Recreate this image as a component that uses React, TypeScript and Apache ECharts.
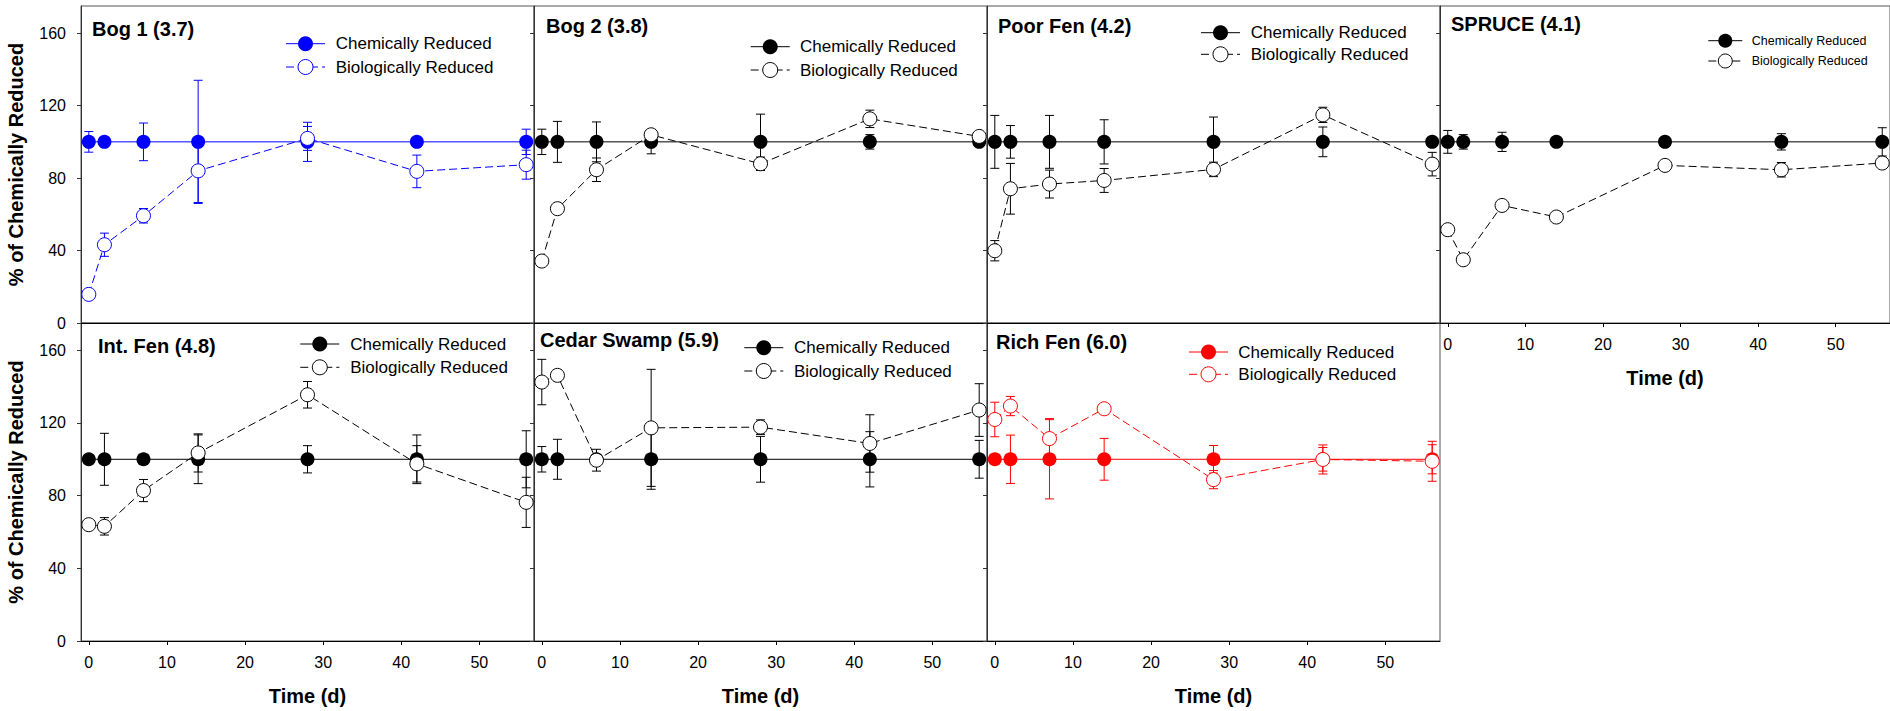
import React, { useEffect, useRef } from "react";
import * as echarts from "echarts";

// ---------- data ----------
const DAYS = [0, 2, 7, 14, 28, 42, 56];
const DAYS_SPRUCE = [0, 2, 7, 14, 28, 43, 56];
const X_TICKS = [0, 10, 20, 30, 40, 50];
const Y_TICKS = [0, 40, 80, 120, 160];

const PANEL_TITLES = [
  "Bog 1 (3.7)",
  "Bog 2 (3.8)",
  "Poor Fen (4.2)",
  "SPRUCE (4.1)",
  "Int. Fen (4.8)",
  "Cedar Swamp (5.9)",
  "Rich Fen (6.0)",
];
const SERIES_NAMES = ["Chemically Reduced", "Biologically Reduced"];

const BOG1_CHEM = [100, 100, 100, 100, 100, 100, 100];
const BOG1_CHEM_ERR = [5.7, 0, 10.4, 34, 10.8, 0, 7];
const BOG1_BIO = [15.8, 43.2, 59.2, 84.0, 101.9, 83.7, 87.4];
const BOG1_BIO_ERR = [0, 6.4, 4, 17.5, 6.6, 9, 8];

const BOG2_CHEM = [100, 100, 100, 100, 100, 100, 100];
const BOG2_CHEM_ERR = [7, 11.3, 11, 6.6, 15.3, 4, 0];
const BOG2_BIO = [34.2, 63.1, 84.6, 103.9, 87.9, 112.7, 103];
const BOG2_BIO_ERR = [0, 0, 6.5, 0, 3.7, 4.8, 0];

const POORFEN_CHEM = [100, 100, 100, 100, 100, 100, 100];
const POORFEN_CHEM_ERR = [14.6, 9, 14.6, 12.2, 13.7, 8.2, 0];
const POORFEN_BIO = [39.9, 74.1, 76.7, 78.7, 84.8, 114.9, 87.7];
const POORFEN_BIO_ERR = [5.6, 14, 7.7, 6.6, 4, 4.2, 6.5];

const SPRUCE_CHEM = [100, 100, 100, 100, 100, 100, 100];
const SPRUCE_CHEM_ERR = [6.3, 4, 5.3, 0, 0, 4.5, 7.8];
const SPRUCE_BIO = [51.5, 34.9, 64.9, 58.5, 87.0, 84.6, 88.3];
const SPRUCE_BIO_ERR = [0, 0, 0, 0, 0, 4, 0];

const INTFEN_CHEM = [100, 100, 100, 100, 100, 100, 100];
const INTFEN_CHEM_ERR = [0, 14.3, 0, 13.4, 7.5, 13.4, 15.7];
const INTFEN_BIO = [64, 63.1, 82.8, 103.5, 135.5, 97.5, 76.3];
const INTFEN_BIO_ERR = [0, 4.8, 6.1, 10.5, 7.3, 10, 13.8];

const CEDAR_CHEM = [100, 100, 100, 100, 100, 100, 100];
const CEDAR_CHEM_ERR = [7, 11, 0, 16.5, 12.6, 15.2, 10.4];
const CEDAR_BIO = [142.5, 146.2, 99.5, 117.3, 117.7, 108.7, 127.1];
const CEDAR_BIO_ERR = [12.5, 3, 6, 32.2, 4, 15.8, 14.5];

const RICHFEN_CHEM = [100, 100, 100, 100, 100, 100, 100];
const RICHFEN_CHEM_ERR = [0, 13.3, 21.8, 11.5, 7.6, 6.5, 8];
const RICHFEN_BIO = [121.9, 129.3, 111.4, 127.8, 88.8, 99.9, 98.9];
const RICHFEN_BIO_ERR = [9.5, 5.3, 11, 0, 5, 8, 11];

const PANEL_DATA = [
  { days: DAYS, chem: BOG1_CHEM, chemErr: BOG1_CHEM_ERR, bio: BOG1_BIO, bioErr: BOG1_BIO_ERR },
  { days: DAYS, chem: BOG2_CHEM, chemErr: BOG2_CHEM_ERR, bio: BOG2_BIO, bioErr: BOG2_BIO_ERR },
  { days: DAYS, chem: POORFEN_CHEM, chemErr: POORFEN_CHEM_ERR, bio: POORFEN_BIO, bioErr: POORFEN_BIO_ERR },
  { days: DAYS_SPRUCE, chem: SPRUCE_CHEM, chemErr: SPRUCE_CHEM_ERR, bio: SPRUCE_BIO, bioErr: SPRUCE_BIO_ERR },
  { days: DAYS, chem: INTFEN_CHEM, chemErr: INTFEN_CHEM_ERR, bio: INTFEN_BIO, bioErr: INTFEN_BIO_ERR },
  { days: DAYS, chem: CEDAR_CHEM, chemErr: CEDAR_CHEM_ERR, bio: CEDAR_BIO, bioErr: CEDAR_BIO_ERR },
  { days: DAYS, chem: RICHFEN_CHEM, chemErr: RICHFEN_CHEM_ERR, bio: RICHFEN_BIO, bioErr: RICHFEN_BIO_ERR },
];

// ---------- layout / style ----------
const FONT = 'Arial, "Liberation Sans", Helvetica, sans-serif';
const PANEL_COLORS = ["#0000ff", "#000", "#000", "#000", "#000", "#000", "#ff0000"];
const GRID_W = 453;
const GRIDS = [
  { left: 81, top: 6, height: 317 },
  { left: 534, top: 6, height: 317 },
  { left: 987, top: 6, height: 317 },
  { left: 1440, top: 6, height: 317 },
  { left: 81, top: 323, height: 318 },
  { left: 534, top: 323, height: 318 },
  { left: 987, top: 323, height: 318 },
];
const SHOW_X = [false, false, false, true, true, true, true];
const SHOW_Y = [true, false, false, false, true, false, false];
const TITLE_POS = [
  [92, 30],
  [546, 27.3],
  [998, 27.3],
  [1451, 25],
  [98, 346.7],
  [540, 340.7],
  [996, 342.7],
];
const LEGEND_POS = [
  { x: 286, len: 39, rows: [43.7, 67], tx: 335.7, fs: 17 },
  { x: 750.7, len: 39, rows: [46.7, 70], tx: 800, fs: 17 },
  { x: 1201, len: 39, rows: [32.7, 54.3], tx: 1250.7, fs: 17 },
  { x: 1708.3, len: 34, rows: [40.7, 61], tx: 1751.7, fs: 12.5 },
  { x: 300.3, len: 39, rows: [344, 367.3], tx: 350.2, fs: 17 },
  { x: 744.3, len: 39, rows: [347.7, 371], tx: 794, fs: 17 },
  { x: 1189, len: 39, rows: [352, 374.3], tx: 1238.3, fs: 17 },
];
const DASH = [8, 4];
const MARKER = 14;

function errorSeries(i: number, days: number[], vals: number[], errs: number[], color: string) {
  const data: number[][] = [];
  days.forEach((d, j) => {
    if (errs[j] > 0) data.push([d, vals[j] - errs[j], vals[j] + errs[j]]);
  });
  return {
    type: "custom",
    xAxisIndex: i,
    yAxisIndex: i,
    z: 1,
    silent: true,
    encode: { x: 0, y: [1, 2] },
    data,
    renderItem: (params: any, api: any) => {
      const x = api.value(0);
      const lo = api.coord([x, api.value(1)]);
      const hi = api.coord([x, api.value(2)]);
      const w = 4.5;
      const style = { stroke: color, lineWidth: 1, fill: "none" };
      return {
        type: "group",
        children: [
          { type: "line", shape: { x1: lo[0], y1: lo[1], x2: hi[0], y2: hi[1] }, style },
          { type: "line", shape: { x1: lo[0] - w, y1: lo[1], x2: lo[0] + w, y2: lo[1] }, style },
          { type: "line", shape: { x1: hi[0] - w, y1: hi[1], x2: hi[0] + w, y2: hi[1] }, style },
        ],
      };
    },
  };
}

function buildOption() {
  const grid: any[] = [];
  const xAxis: any[] = [];
  const yAxis: any[] = [];
  const series: any[] = [];
  const title: any[] = [];
  const graphic: any[] = [];

  PANEL_DATA.forEach((p, i) => {
    const g = GRIDS[i];
    const c = PANEL_COLORS[i];
    grid.push({
      left: g.left,
      top: g.top,
      width: GRID_W,
      height: g.height,
      show: true,
      borderColor: "#555",
      borderWidth: 1,
      backgroundColor: "transparent",
      containLabel: false,
    });
    xAxis.push({
      type: "value",
      gridIndex: i,
      min: -1,
      max: 57,
      splitLine: { show: false },
      axisLine: { show: true, onZero: false, lineStyle: { color: "#000", width: 1 } },
      axisTick: {
        show: SHOW_X[i],
        customValues: X_TICKS,
        length: 4,
        inside: false,
        lineStyle: { color: "#000" },
      },
      axisLabel: {
        show: SHOW_X[i],
        customValues: X_TICKS,
        fontSize: 16,
        color: "#000",
        margin: 13,
        fontFamily: FONT,
      },
      name: SHOW_X[i] ? "Time (d)" : "",
      nameLocation: "middle",
      nameGap: 45,
      nameTextStyle: { fontSize: 20, fontWeight: "bold", color: "#000", fontFamily: FONT },
    });
    yAxis.push({
      type: "value",
      gridIndex: i,
      min: 0,
      max: 175,
      splitLine: { show: false },
      axisLine: { show: true, onZero: false, lineStyle: { color: "#333", width: 1 } },
      axisTick: {
        show: true,
        customValues: Y_TICKS,
        length: 4,
        inside: false,
        lineStyle: { color: "#333" },
      },
      axisLabel: {
        show: SHOW_Y[i],
        customValues: Y_TICKS,
        fontSize: 16,
        color: "#000",
        margin: 15,
        fontFamily: FONT,
      },
      name: SHOW_Y[i] ? "% of Chemically Reduced" : "",
      nameLocation: "middle",
      nameRotate: 90,
      nameGap: 55,
      nameTextStyle: { fontSize: 20, fontWeight: "bold", color: "#000", fontFamily: FONT },
    });

    title.push({
      text: PANEL_TITLES[i],
      left: TITLE_POS[i][0],
      top: TITLE_POS[i][1] - 11,
      padding: 0,
      textStyle: { fontSize: 20, fontWeight: "bold", color: "#000", fontFamily: FONT },
    });

    series.push(errorSeries(i, p.days, p.chem, p.chemErr, c));
    series.push(errorSeries(i, p.days, p.bio, p.bioErr, c));
    series.push({
      type: "line",
      name: PANEL_TITLES[i] + " – " + SERIES_NAMES[0],
      xAxisIndex: i,
      yAxisIndex: i,
      z: 2,
      data: p.days.map((d, j) => [d, p.chem[j]]),
      symbol: "circle",
      symbolSize: MARKER,
      lineStyle: { color: c, width: 1, type: "solid" },
      itemStyle: { color: c, borderWidth: 0 },
      emphasis: { disabled: true },
    });
    series.push({
      type: "line",
      name: PANEL_TITLES[i] + " – " + SERIES_NAMES[1],
      xAxisIndex: i,
      yAxisIndex: i,
      z: 3,
      data: p.days.map((d, j) => [d, p.bio[j]]),
      symbol: "circle",
      symbolSize: MARKER,
      lineStyle: { color: c, width: 1, type: DASH },
      itemStyle: { color: "#fff", borderColor: c, borderWidth: 1 },
      emphasis: { disabled: true },
    });

    // legend (drawn per panel)
    const L = LEGEND_POS[i];
    const r = L.fs < 15 ? 7 : 7.5;
    SERIES_NAMES.forEach((nm, k) => {
      const y = L.rows[k];
      graphic.push({
        type: "line",
        shape: { x1: L.x, y1: y, x2: L.x + L.len, y2: y },
        style: { stroke: c, lineWidth: 1, lineDash: k === 1 ? DASH : null },
        z: 10,
      });
      graphic.push({
        type: "circle",
        shape: { cx: L.x + L.len / 2, cy: y, r },
        style: k === 0 ? { fill: c, stroke: c, lineWidth: 0 } : { fill: "#fff", stroke: c, lineWidth: 1 },
        z: 11,
      });
      graphic.push({
        type: "text",
        x: L.tx,
        y,
        style: {
          text: nm,
          fontSize: L.fs,
          fontFamily: FONT,
          fill: "#000",
          align: "left",
          verticalAlign: "middle",
        },
        z: 11,
      });
    });
  });

  return {
    animation: false,
    backgroundColor: "#fff",
    textStyle: { fontFamily: FONT },
    title,
    grid,
    xAxis,
    yAxis,
    series,
    graphic,
  };
}

export default function App() {
  const ref = useRef<HTMLDivElement>(null);
  useEffect(() => {
    if (!ref.current) return;
    const chart = echarts.init(ref.current, undefined, { renderer: "svg" });
    chart.setOption(buildOption() as any);
    return () => chart.dispose();
  }, []);
  return (
    <div
      ref={ref}
      style={{ position: "absolute", left: 0, top: 0, width: 1890, height: 711, background: "#fff" }}
    />
  );
}
